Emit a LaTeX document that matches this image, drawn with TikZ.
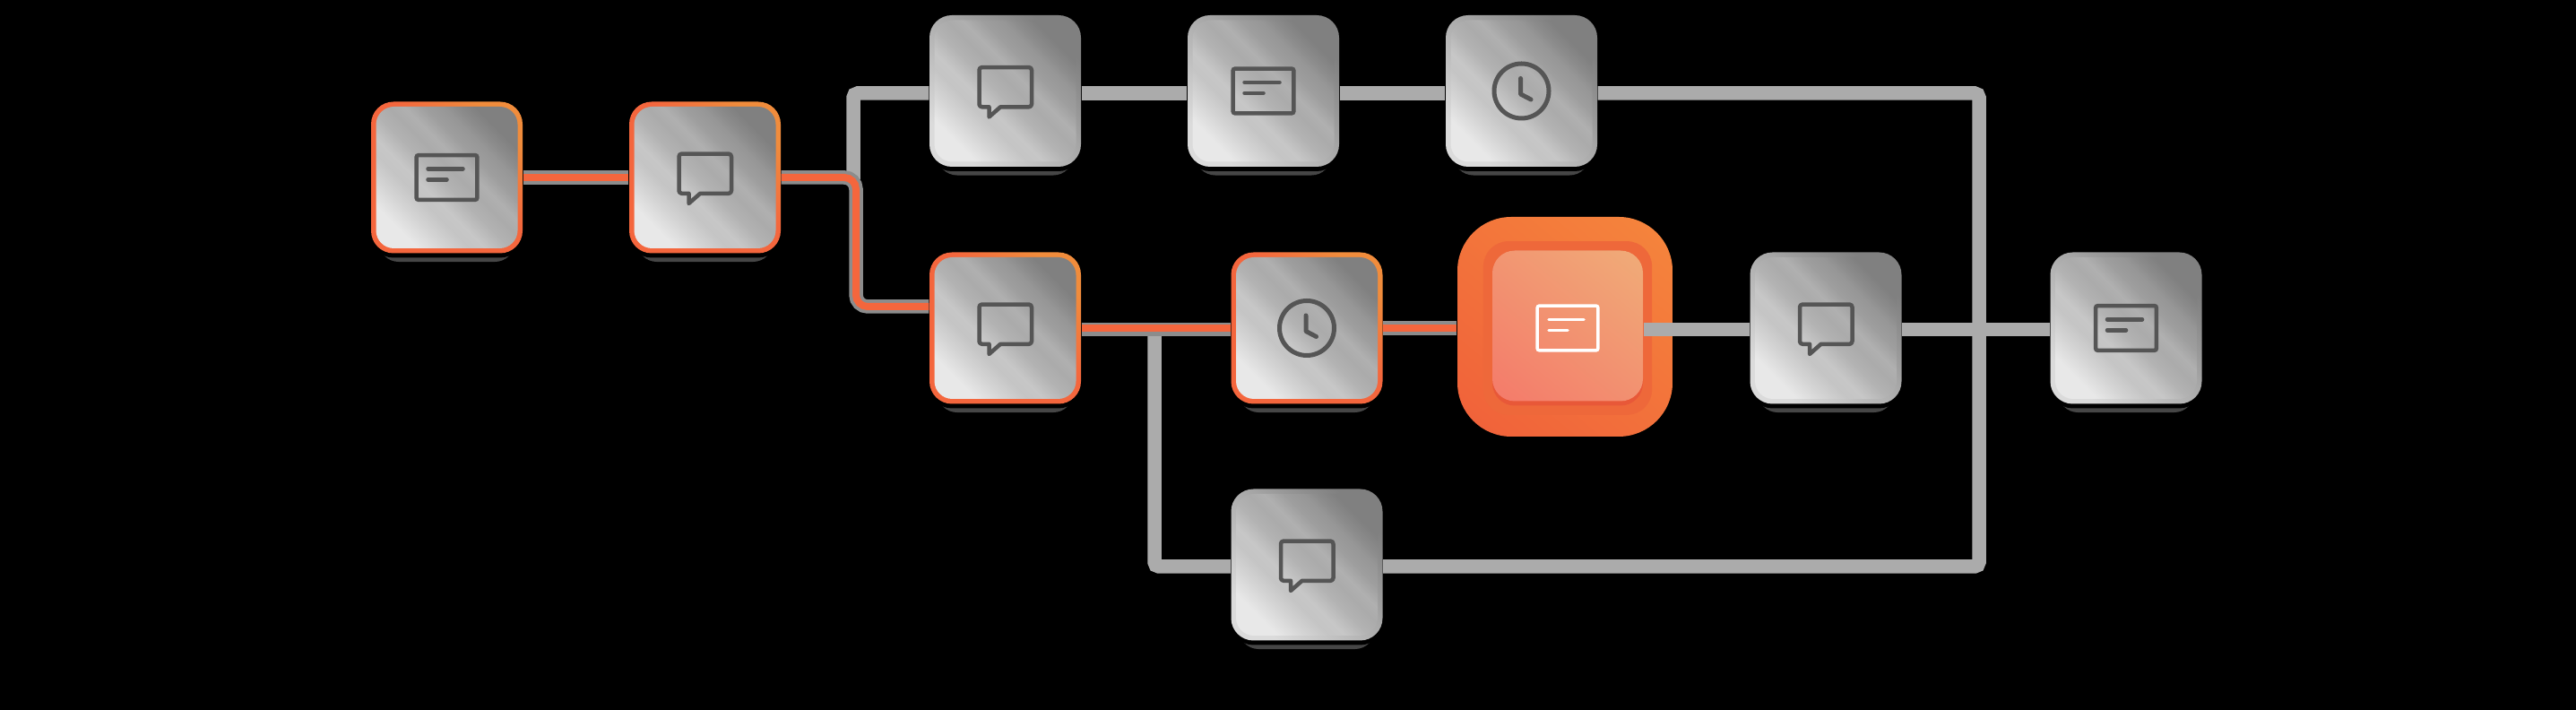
\documentclass[tikz,border=0pt]{standalone}
\usepackage{xcolor}
\usetikzlibrary{positioning, shadows, shadings}
\definecolor{wiregray}{RGB}{171,171,171}
\definecolor{wireunder}{RGB}{140,140,140}
\definecolor{wireorange}{RGB}{244,102,61}
\definecolor{iconink}{RGB}{85,85,85}
\definecolor{fringe}{RGB}{70,70,70}
\definecolor{hubhalo}{RGB}{238,104,58}
\definecolor{hubrim}{RGB}{232,88,56}
\definecolor{rimhigh}{RGB}{240,140,60}
\definecolor{glowlow}{RGB}{240,96,58}
\definecolor{glowhigh}{RGB}{245,134,60}
\definecolor{facelow}{RGB}{244,122,106}
\definecolor{facehigh}{RGB}{240,172,120}
\pgfdeclareverticalshading{steel}{100bp}{color(0bp)=(white!91!black); color(25bp)=(white!91!black); color(32bp)=(white!83!black); color(38bp)=(white!77!black); color(42bp)=(white!78!black); color(48bp)=(white!70!black); color(53bp)=(white!67!black); color(57bp)=(white!69!black); color(62bp)=(white!62!black); color(67bp)=(white!59!black); color(70bp)=(white!55!black); color(75bp)=(white!50!black); color(100bp)=(white!50!black)}
\pgfdeclareverticalshading{rimgray}{100bp}{color(0bp)=(white!86!black); color(25bp)=(white!86!black); color(50bp)=(white!68!black); color(75bp)=(white!50!black); color(100bp)=(white!50!black)}
\pgfdeclareverticalshading{rimorange}{100bp}{color(0bp)=(wireorange); color(25bp)=(wireorange); color(55bp)=(wireorange); color(75bp)=(rimhigh); color(100bp)=(rimhigh)}
\tikzstyle{stepface} = [rectangle, rounded corners=.2cm, minimum size=1.58cm, inner sep=0pt, shade, shading=steel, shading angle=-45]
\tikzstyle{stepbox} = [rectangle, rounded corners=.25cm, minimum size=1.69cm, inner sep=0pt, general shadow={fill=fringe, shadow scale=.9, shadow yshift=-.2cm}, general shadow={fill=black, shadow yshift=-.05cm}, shade, shading=rimgray, shading angle=-45, path picture={\node [stepface] at (path picture bounding box.center) {};}]
\tikzstyle{activebox} = [stepbox, shading=rimorange]
\tikzstyle{hubglow} = [rectangle, rounded corners=.6cm, minimum width=2.4cm, minimum height=2.45cm, inner sep=0pt, shade, lower left=glowlow, upper right=glowhigh, upper left=glowhigh!55!glowlow, lower right=glowhigh!45!glowlow]
\tikzstyle{hubbox} = [rectangle, rounded corners=.25cm, minimum width=1.68cm, minimum height=1.73cm, inner sep=0pt, fill=hubrim, general shadow={fill=hubhalo, shadow scale=1.12}]
\tikzstyle{hubface} = [rectangle, rounded corners=.25cm, minimum size=1.68cm, inner sep=0pt, shade, lower left=facelow, upper right=facehigh, upper left=facehigh!55!facelow, lower right=facehigh!45!facelow]
\tikzstyle{graywire} = [draw=wiregray, line width=1.55mm, rounded corners=.05cm]
\tikzstyle{underwire} = [draw=wireunder, line width=1.55mm, rounded corners=.13cm]
\tikzstyle{orangewire} = [draw=wireorange, line width=.8mm, rounded corners=.13cm]
\tikzset{
  pics/cardicon/.style={code={
    \draw [iconink, line width=.45mm, rounded corners=.02cm, #1] (-.338,-.248) rectangle (.338,.248);
    \draw [iconink, line width=.45mm, line cap=round, #1] (-.21,.097) -- (.18,.097);
    \draw [iconink, line width=.45mm, line cap=round, #1] (-.21,-.023) -- (0,-.023);
  }},
  pics/cardicon/.default={},
  pics/chaticon/.style={code={
    \draw [iconink, line width=.45mm, line join=round] (-.18,-.178) -- (-.26,-.178) to[out=180,in=-90] (-.29,-.148) -- (-.29,.234) to[out=90,in=180] (-.26,.264) -- (.265,.264) to[out=0,in=90] (.295,.234) -- (.295,-.148) to[out=-90,in=0] (.265,-.178) -- (-.053,-.178) -- (-.18,-.29) -- cycle;
  }},
  pics/clockicon/.style={code={
    \draw [iconink, line width=.5mm] (0,0) circle (.305cm);
    \draw [iconink, line width=.5mm, line cap=round, line join=round] (-.01,.14) -- (-.01,-.035) -- (.105,-.095);
  }}
}

\begin{document}
\begin{tikzpicture}[node distance=2.88cm]

\useasboundingbox (0,0) rectangle (28.74,-7.92);
\fill [black] (0,0) rectangle (28.74,-7.92);

% Boxes on the lit path
\node (card1) [activebox] at (4.985,-1.98) {};
\node (chat1) [activebox, right of=card1] {};
\node (chat3) [activebox, right of=chat1, xshift=.47cm, yshift=-1.68cm] {};
\node (clock2) [activebox, right of=chat3, xshift=.485cm] {};

% Other boxes
\node (chat2) [stepbox, right of=chat1, xshift=.47cm, yshift=.965cm] {};
\node (card2) [stepbox, right of=chat2] {};
\node (clock1) [stepbox, right of=card2] {};
\node (chat5) [stepbox, below of=clock2, node distance=2.64cm] {};

% Highlighted step
\node (glow) [hubglow, right of=clock2, yshift=.015cm] {};
\node (hub) [hubbox, right of=clock2, xshift=.03cm] {};
\node (hubtop) [hubface, right of=clock2, xshift=.03cm, yshift=.025cm] {};

\node (chat4) [stepbox, right of=hub] {};
\node (card3) [stepbox, right of=chat4, xshift=.47cm] {};

% Rails the wires run along
\coordinate (upperrail) at (9.52,-1.04);
\coordinate (splitrail) at (9.55,-3.42);
\coordinate (midrail) at (12.88,-3.675);
\coordinate (lowerrail) at (12.88,-6.32);
\coordinate (closerail) at (22.08,-6.32);
\coordinate (wirestart) at (9.52,-2.0);
\coordinate (orangeturn) at (9.55,-1.98);

% Gray wires
\draw [graywire] (wirestart) -- (upperrail) -- (upperrail -| chat2.west);
\draw [graywire] (upperrail -| chat2.east) -- (upperrail -| card2.west);
\draw [graywire] (upperrail -| card2.east) -- (upperrail -| clock1.west);
\draw [graywire] (upperrail -| clock1.east) -| (closerail) -- (closerail -| chat5.east);
\draw [graywire] (midrail) |- (lowerrail -| chat5.west);
\draw [underwire] (midrail -| chat3.east) -- (midrail -| clock2.west);
\draw [graywire] (midrail -| chat4.east) -- (midrail -| card3.west);
\draw [graywire] (midrail -| hub.east) -- (midrail -| chat4.west);
\draw [underwire, yshift=-.015cm, xshift=-.03cm] (chat1.east) -- (orangeturn) |- (splitrail -| chat3.west);
\draw [underwire, yshift=-.015cm] (card1.east) -- (chat1.west);
\draw [underwire, yshift=-.015cm] (clock2.east) -- (glow.west |- clock2.east);

% Orange wires
\draw [orangewire] (card1.east) -- (chat1.west);
\draw [orangewire] (chat1.east) -- (orangeturn) |- (splitrail -| chat3.west);
\draw [orangewire] (chat3.east) -- (clock2.west);
\draw [orangewire] (clock2.east) -- (glow.west |- clock2.east);

% Icons
\pic at (card1) {cardicon};
\pic at (chat1) {chaticon};
\pic at (chat2) {chaticon};
\pic at (card2) {cardicon};
\pic at (clock1) {clockicon};
\pic at (chat3) {chaticon};
\pic at (clock2) {clockicon};
\pic at (hub) {cardicon={white, line width=.35mm}};
\pic at (chat4) {chaticon};
\pic at (card3) {cardicon};
\pic at (chat5) {chaticon};

\end{tikzpicture}
\end{document}
